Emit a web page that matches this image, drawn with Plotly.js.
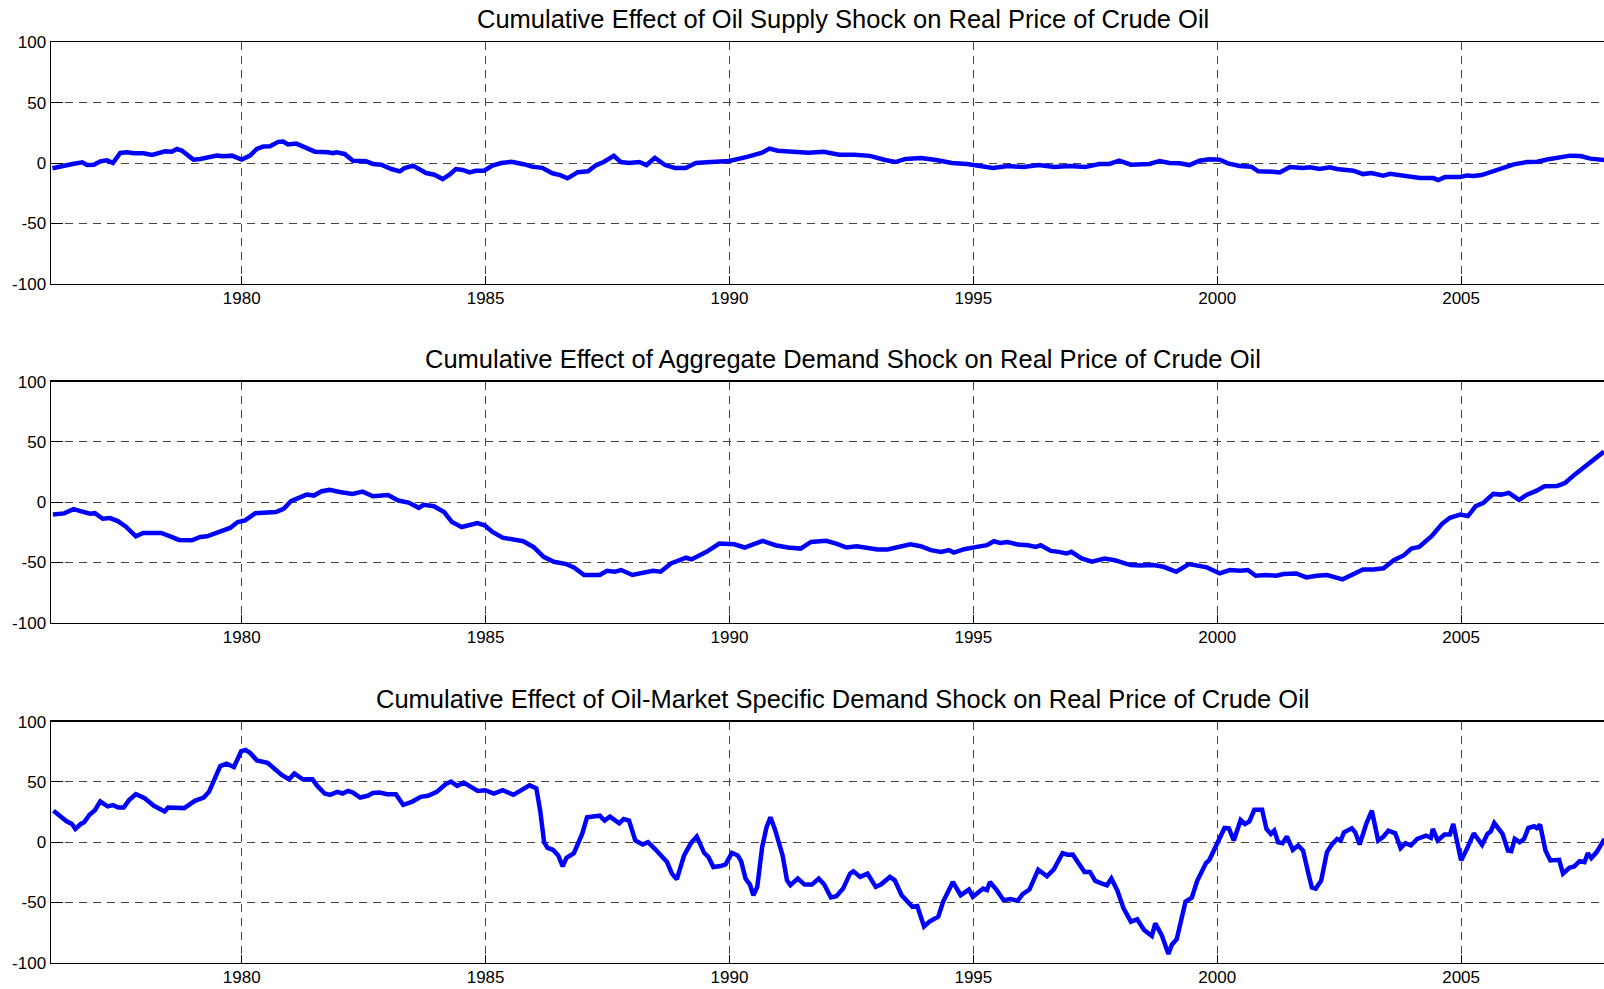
<!DOCTYPE html>
<html>
<head>
<meta charset="utf-8">
<script src="https://cdn.plot.ly/plotly-3.0.1.min.js"></script>
<style>
  html, body { margin: 0; padding: 0; background: #fff; overflow: hidden; }
  #wykres { width: 1604px; height: 989px; }
</style>
</head>
<body>
<div id="wykres"></div>
<script>
// Skumulowany wpływ szoków na realną cenę ropy — trzy panele.

const TYTULY = [
  'Cumulative Effect of Oil Supply Shock on Real Price of Crude Oil',
  'Cumulative Effect of Aggregate Demand Shock on Real Price of Crude Oil',
  'Cumulative Effect of Oil-Market Specific Demand Shock on Real Price of Crude Oil',
];
const LATA_TICK = [1980, 1985, 1990, 1995, 2000, 2005];
const Y_TICK = [-100, -50, 0, 50, 100];

// panel 1: szok podażowy
const lataPodaz = [
  1976.12, 1976.32, 1976.53, 1976.73, 1976.83, 1976.97, 1977.10, 1977.24, 1977.36, 1977.51,
  1977.65, 1977.79, 1977.99, 1978.16, 1978.26, 1978.43, 1978.57, 1978.67, 1978.77, 1979.01,
  1979.15, 1979.28, 1979.49, 1979.63, 1979.80, 1980.00, 1980.17, 1980.31, 1980.44, 1980.58,
  1980.75, 1980.85, 1980.95, 1981.12, 1981.33, 1981.50, 1981.77, 1981.87, 1981.94, 1982.11,
  1982.28, 1982.55, 1982.69, 1982.86, 1983.07, 1983.24, 1983.34, 1983.51, 1983.78, 1983.95,
  1984.12, 1984.26, 1984.39, 1984.53, 1984.67, 1984.80, 1984.97, 1985.14, 1985.32, 1985.53,
  1985.78, 1985.95, 1986.16, 1986.37, 1986.53, 1986.68, 1986.89, 1987.10, 1987.27, 1987.42,
  1987.63, 1987.77, 1987.94, 1988.15, 1988.30, 1988.47, 1988.68, 1988.89, 1989.10, 1989.31,
  1989.62, 1990.00, 1990.36, 1990.67, 1990.82, 1990.99, 1991.30, 1991.62, 1991.93, 1992.25,
  1992.56, 1992.88, 1993.19, 1993.40, 1993.61, 1993.93, 1994.24, 1994.56, 1994.87, 1995.08,
  1995.40, 1995.71, 1996.03, 1996.34, 1996.66, 1996.97, 1997.29, 1997.58, 1997.79, 1997.99,
  1998.23, 1998.61, 1998.82, 1999.02, 1999.23, 1999.43, 1999.64, 1999.84, 2000.05, 2000.22,
  2000.46, 2000.70, 2000.84, 2001.14, 2001.28, 2001.49, 2001.76, 2001.90, 2002.10, 2002.31,
  2002.45, 2002.79, 2002.99, 2003.16, 2003.40, 2003.54, 2003.78, 2003.99, 2004.16, 2004.43,
  2004.53, 2004.67, 2004.98, 2005.12, 2005.25, 2005.42, 2005.60, 2005.87, 2006.08, 2006.35,
  2006.56, 2006.79, 2007.03, 2007.24, 2007.45, 2007.65, 2007.94,
];
const efektPodaz = [
  -4.4, -2.2, -0.8, 0.6, -1.7, -1.4, 1.4, 2.2, 0.0, 8.3,
  8.9, 8.1, 8.1, 6.7, 8.1, 9.7, 9.4, 11.7, 10.3, 2.8,
  3.3, 4.7, 6.1, 5.6, 6.1, 2.8, 6.1, 11.7, 13.6, 13.9,
  17.5, 17.8, 15.3, 16.1, 12.2, 9.4, 8.9, 8.1, 8.9, 7.5,
  1.9, 1.4, -0.8, -1.4, -5.0, -6.9, -4.2, -2.2, -8.3, -9.7,
  -13.3, -9.7, -5.0, -5.8, -7.8, -6.4, -6.4, -2.2, 0.0, 1.0,
  -1.0, -3.0, -4.0, -8.5, -10.0, -12.7, -7.6, -6.8, -1.7, 0.8,
  5.9, 0.8, 0.0, 0.8, -1.7, 4.2, -1.7, -4.2, -4.2, 0.0,
  0.8, 1.7, 5.1, 8.5, 11.9, 10.2, 9.3, 8.5, 9.3, 6.8,
  6.8, 5.9, 2.5, 0.8, 3.4, 4.2, 2.5, 0.0, -0.8, -2.5,
  -4.2, -2.5, -3.4, -1.7, -3.4, -2.5, -3.4, -0.8, -0.8, 1.9,
  -1.4, -0.8, 1.7, 0.0, -0.3, -1.7, 1.9, 3.1, 2.8, -0.3,
  -2.5, -3.1, -6.9, -7.2, -7.8, -3.3, -4.2, -3.6, -5.0, -3.6,
  -5.0, -6.4, -9.2, -8.3, -10.6, -8.9, -10.3, -11.4, -12.5, -12.5,
  -14.2, -11.7, -11.7, -10.3, -10.8, -10.0, -7.8, -3.6, -1.1, 0.8,
  1.1, 3.1, 5.0, 6.1, 5.8, 3.6, 2.5,
];

// panel 2: szok popytu zagregowanego
const lataPopyt = [
  1976.13, 1976.36, 1976.55, 1976.73, 1976.89, 1976.99, 1977.15, 1977.30, 1977.46, 1977.62,
  1977.83, 1977.98, 1978.19, 1978.35, 1978.56, 1978.71, 1978.98, 1979.15, 1979.29, 1979.55,
  1979.76, 1979.92, 1980.07, 1980.28, 1980.70, 1980.86, 1981.01, 1981.33, 1981.48, 1981.64,
  1981.80, 1982.01, 1982.27, 1982.48, 1982.69, 1983.00, 1983.21, 1983.42, 1983.63, 1983.73,
  1983.94, 1984.15, 1984.31, 1984.51, 1984.67, 1984.83, 1984.98, 1985.14, 1985.35, 1985.56,
  1985.77, 1985.98, 1986.19, 1986.40, 1986.66, 1986.81, 1987.02, 1987.34, 1987.49, 1987.65,
  1987.78, 1988.01, 1988.22, 1988.43, 1988.59, 1988.80, 1989.11, 1989.22, 1989.53, 1989.79,
  1990.10, 1990.31, 1990.68, 1990.94, 1991.20, 1991.46, 1991.67, 1991.88, 1991.98, 1992.19,
  1992.40, 1992.61, 1992.82, 1993.03, 1993.24, 1993.45, 1993.71, 1993.92, 1994.13, 1994.34,
  1994.50, 1994.60, 1994.81, 1995.07, 1995.28, 1995.42, 1995.55, 1995.70, 1995.91, 1996.12,
  1996.28, 1996.38, 1996.59, 1996.75, 1996.91, 1997.01, 1997.22, 1997.43, 1997.69, 1997.90,
  1998.22, 1998.43, 1998.69, 1998.90, 1999.16, 1999.42, 1999.63, 1999.79, 2000.05, 2000.26,
  2000.47, 2000.63, 2000.79, 2001.00, 2001.21, 2001.36, 2001.62, 2001.83, 2002.04, 2002.25,
  2002.57, 2002.78, 2002.99, 2003.20, 2003.41, 2003.62, 2003.83, 2003.98, 2004.14, 2004.40,
  2004.61, 2004.77, 2004.98, 2005.14, 2005.30, 2005.45, 2005.66, 2005.82, 2005.98, 2006.19,
  2006.34, 2006.55, 2006.71, 2006.97, 2007.13, 2007.34, 2007.55, 2007.76, 2007.93,
];
const efektPopyt = [
  -10.2, -9.3, -5.8, -8.2, -9.6, -9.1, -13.7, -13.2, -15.7, -20.1,
  -28.3, -25.5, -25.8, -25.5, -28.8, -31.3, -31.6, -28.8, -28.3, -24.2,
  -21.4, -16.5, -15.1, -9.1, -8.2, -5.5, 0.8, 6.3, 5.5, 9.1,
  10.2, 8.5, 6.9, 8.8, 4.9, 6.0, 1.4, -0.3, -4.7, -2.2,
  -3.3, -8.2, -16.5, -20.6, -19.2, -17.3, -19.2, -24.7, -29.4, -31.0,
  -32.4, -37.1, -45.3, -49.4, -51.4, -54.1, -60.4, -60.4, -56.9, -57.7,
  -56.3, -60.4, -59.1, -56.9, -57.7, -50.8, -46.1, -47.5, -41.2, -34.3,
  -34.9, -37.6, -32.1, -35.7, -37.6, -38.5, -33.0, -32.4, -32.1, -34.3,
  -37.6, -36.5, -37.6, -39.3, -39.3, -37.1, -34.9, -36.5, -39.8, -41.2,
  -39.8, -41.8, -39.0, -37.1, -35.7, -32.4, -33.8, -33.0, -35.2, -35.7,
  -37.1, -35.7, -40.4, -41.2, -42.6, -41.2, -46.7, -49.4, -46.7, -48.1,
  -52.2, -52.5, -52.2, -53.6, -57.7, -51.4, -53.0, -54.1, -59.1, -56.3,
  -56.9, -56.3, -61.0, -60.4, -61.0, -59.6, -59.1, -62.4, -61.0, -60.4,
  -64.0, -60.4, -55.8, -55.8, -54.9, -48.1, -44.0, -38.5, -37.1, -28.0,
  -17.9, -12.9, -10.2, -11.5, -3.3, -0.8, 6.9, 6.3, 7.7, 1.9,
  6.0, 9.6, 13.2, 13.5, 15.9, 23.3, 30.2, 36.5, 42.0,
];

// panel 3: szok popytu specyficznego dla rynku ropy
const lataRynek = [
  1976.14, 1976.26, 1976.41, 1976.52, 1976.59, 1976.70, 1976.77, 1976.88, 1976.99, 1977.10,
  1977.25, 1977.36, 1977.47, 1977.58, 1977.69, 1977.83, 1978.01, 1978.20, 1978.42, 1978.49,
  1978.82, 1979.04, 1979.22, 1979.33, 1979.47, 1979.56, 1979.69, 1979.84, 1979.99, 1980.08,
  1980.17, 1980.31, 1980.53, 1980.68, 1980.82, 1980.97, 1981.08, 1981.25, 1981.45, 1981.55,
  1981.70, 1981.81, 1981.96, 1982.07, 1982.18, 1982.28, 1982.43, 1982.58, 1982.69, 1982.83,
  1982.98, 1983.16, 1983.31, 1983.49, 1983.67, 1983.82, 1984.00, 1984.18, 1984.29, 1984.42,
  1984.55, 1984.84, 1984.99, 1985.17, 1985.35, 1985.57, 1985.72, 1985.90, 1986.04, 1986.12,
  1986.20, 1986.27, 1986.38, 1986.49, 1986.58, 1986.66, 1986.81, 1986.98, 1987.08, 1987.23,
  1987.34, 1987.44, 1987.55, 1987.74, 1987.83, 1987.94, 1988.07, 1988.22, 1988.33, 1988.47,
  1988.61, 1988.72, 1988.82, 1988.92, 1989.07, 1989.21, 1989.33, 1989.48, 1989.57, 1989.67,
  1989.82, 1989.92, 1990.05, 1990.17, 1990.24, 1990.33, 1990.42, 1990.49, 1990.57, 1990.67,
  1990.76, 1990.84, 1990.93, 1991.09, 1991.18, 1991.25, 1991.40, 1991.54, 1991.69, 1991.83,
  1991.94, 1992.08, 1992.19, 1992.33, 1992.47, 1992.54, 1992.68, 1992.83, 1993.00, 1993.11,
  1993.29, 1993.39, 1993.53, 1993.64, 1993.75, 1993.85, 1993.99, 1994.10, 1994.28, 1994.38,
  1994.58, 1994.74, 1994.91, 1994.99, 1995.20, 1995.28, 1995.34, 1995.48, 1995.62, 1995.76,
  1995.91, 1996.01, 1996.15, 1996.33, 1996.51, 1996.65, 1996.83, 1996.93, 1997.04, 1997.14,
  1997.28, 1997.39, 1997.50, 1997.64, 1997.74, 1997.83, 1997.95, 1998.08, 1998.23, 1998.36,
  1998.50, 1998.66, 1998.73, 1998.86, 1999.00, 1999.07, 1999.17, 1999.35, 1999.48, 1999.59,
  1999.77, 1999.84, 2000.00, 2000.15, 2000.24, 2000.34, 2000.48, 2000.57, 2000.66, 2000.76,
  2000.92, 2001.01, 2001.10, 2001.17, 2001.25, 2001.34, 2001.43, 2001.55, 2001.66, 2001.76,
  2001.87, 2001.94, 2002.02, 2002.13, 2002.25, 2002.36, 2002.46, 2002.53, 2002.60, 2002.76,
  2002.83, 2002.92, 2003.06, 2003.17, 2003.30, 2003.41, 2003.51, 2003.65, 2003.76, 2003.86,
  2003.97, 2004.10, 2004.28, 2004.38, 2004.42, 2004.52, 2004.66, 2004.77, 2004.84, 2004.91,
  2005.00, 2005.12, 2005.26, 2005.43, 2005.54, 2005.61, 2005.68, 2005.85, 2005.96, 2006.03,
  2006.10, 2006.20, 2006.29, 2006.38, 2006.50, 2006.55, 2006.62, 2006.73, 2006.83, 2007.01,
  2007.09, 2007.22, 2007.32, 2007.43, 2007.53, 2007.60, 2007.67, 2007.78, 2007.94,
];
const efektRynek = [
  26.1, 22.0, 17.3, 15.1, 11.0, 15.1, 16.5, 22.8, 26.6, 33.8,
  29.7, 30.8, 28.8, 28.8, 34.9, 39.8, 36.5, 30.2, 25.5, 28.8,
  28.3, 34.3, 37.1, 41.8, 54.1, 63.2, 65.1, 62.4, 75.5, 76.6,
  74.2, 67.9, 65.9, 60.4, 55.8, 52.2, 57.1, 52.2, 52.2, 46.7,
  40.4, 39.3, 41.8, 40.4, 42.6, 41.2, 37.1, 38.5, 40.9, 41.2,
  39.8, 39.8, 31.0, 33.5, 37.6, 38.5, 41.8, 48.1, 50.3, 46.7,
  49.4, 42.6, 43.1, 40.4, 43.1, 39.3, 42.6, 47.2, 44.8, 26.1,
  0.0, -4.7, -6.3, -11.0, -20.1, -12.9, -9.1, 6.9, 20.6, 21.2,
  22.0, 17.9, 21.2, 15.7, 19.2, 17.9, 1.4, -1.9, 0.0, -5.5,
  -12.4, -16.5, -26.1, -30.8, -11.0, -0.8, 4.7, -8.8, -12.4, -20.6,
  -19.8, -18.4, -8.8, -11.0, -15.9, -30.2, -35.2, -44.0, -37.1, -4.1,
  12.4, 20.6, 11.0, -11.0, -31.6, -35.7, -30.2, -35.2, -35.2, -30.2,
  -34.9, -45.9, -44.8, -38.5, -26.1, -24.2, -28.8, -26.1, -37.1, -34.9,
  -28.8, -31.6, -44.0, -49.4, -53.6, -53.0, -70.0, -65.9, -61.8, -49.4,
  -33.0, -44.0, -39.3, -45.3, -38.5, -39.8, -33.0, -39.8, -48.1, -47.2,
  -48.6, -43.1, -39.3, -22.8, -28.3, -22.5, -9.1, -10.4, -10.2, -16.5,
  -24.7, -24.7, -32.1, -34.3, -35.7, -30.2, -39.8, -54.9, -65.9, -64.0,
  -72.8, -77.7, -67.3, -76.9, -92.8, -85.1, -80.5, -49.4, -45.9, -32.1,
  -17.3, -14.6, -1.4, 11.8, 11.5, 1.4, 18.4, 15.1, 17.3, 26.9,
  26.9, 11.0, 6.9, 9.6, 0.0, -0.8, 4.7, -6.3, -2.7, -6.9,
  -26.1, -37.6, -38.5, -32.1, -8.2, -1.4, 2.7, 1.4, 8.2, 11.5,
  8.2, -1.9, 15.7, 26.1, 1.4, 4.7, 9.6, 7.4, -4.9, -0.8,
  -2.7, 2.7, 5.5, 3.6, 11.0, 1.4, 6.3, 6.3, 15.1, 0.0,
  -15.1, -5.5, 7.4, -2.2, 6.9, 9.1, 15.9, 6.9, -6.9, -7.4,
  2.7, 0.0, 2.7, 11.8, 13.2, 11.8, 14.6, -6.9, -15.1, -14.6,
  -26.1, -21.2, -20.1, -15.7, -16.5, -9.1, -13.2, -8.2, 2.7,
];

const SERIE = [[lataPodaz, efektPodaz], [lataPopyt, efektPopyt], [lataRynek, efektRynek]];

// ---------- układ ----------
const WYS = 989;
const PANELE_PX = [[42.3, 283.7], [381.7, 622.7], [721.7, 962.7]]; // góra/dół osi w pikselach
const CZCIONKA = 'Liberation Sans, Arial, Helvetica, sans-serif';

const slady = SERIE.map(([x, y], i) => ({
  x, y, type: 'scatter', mode: 'lines',
  xaxis: i === 0 ? 'x' : 'x' + (i + 1), yaxis: i === 0 ? 'y' : 'y' + (i + 1),
  line: { color: '#0000ff', width: 4.5 },
  hoverinfo: 'x+y',
}));

const uklad = {
  width: 1604, height: WYS,
  margin: { l: 51, r: 0, t: 0, b: 0 },
  paper_bgcolor: '#fff', plot_bgcolor: '#fff',
  showlegend: false,
  font: { family: CZCIONKA, color: '#000', size: 17 },
  annotations: [],
};

PANELE_PX.forEach(([gora, dol], i) => {
  const os = i === 0 ? '' : String(i + 1);
  const domena = [1 - dol / WYS, 1 - gora / WYS];
  uklad['xaxis' + os] = {
    anchor: 'y' + os, domain: [0, 1],
    range: [1976.09, 2007.93],
    tickmode: 'array', tickvals: LATA_TICK, ticktext: LATA_TICK.map(String),
    showline: true, mirror: true, linecolor: '#000', linewidth: 1.5,
    ticks: 'inside', ticklen: 8, tickcolor: '#000',
    showgrid: true, gridcolor: '#444', gridwidth: 1, griddash: '8px,6px',
    zeroline: false, ticklabelstandoff: -2,
    tickfont: { size: 17, family: CZCIONKA, color: '#000' },
  };
  uklad['yaxis' + os] = {
    anchor: 'x' + os, domain: domena,
    range: [-100, 100],
    tickmode: 'array', tickvals: Y_TICK, ticktext: Y_TICK.map(String),
    showline: true, mirror: false, linecolor: '#000', linewidth: 1.5,
    ticks: 'inside', ticklen: 12, tickcolor: '#000',
    showgrid: true, gridcolor: '#444', gridwidth: 1, griddash: '8px,6px',
    zeroline: false,
    tickfont: { size: 17, family: CZCIONKA, color: '#000' },
  };
  uklad.annotations.push({
    text: TYTULY[i], xref: 'paper', yref: 'paper',
    x: 0.51, y: domena[1], xanchor: 'center', yanchor: 'bottom', yshift: 7,
    showarrow: false, font: { size: 25.5, family: CZCIONKA, color: '#000' },
  });
});

Plotly.newPlot('wykres', slady, uklad, { displayModeBar: false, staticPlot: true });
</script>
</body>
</html>
